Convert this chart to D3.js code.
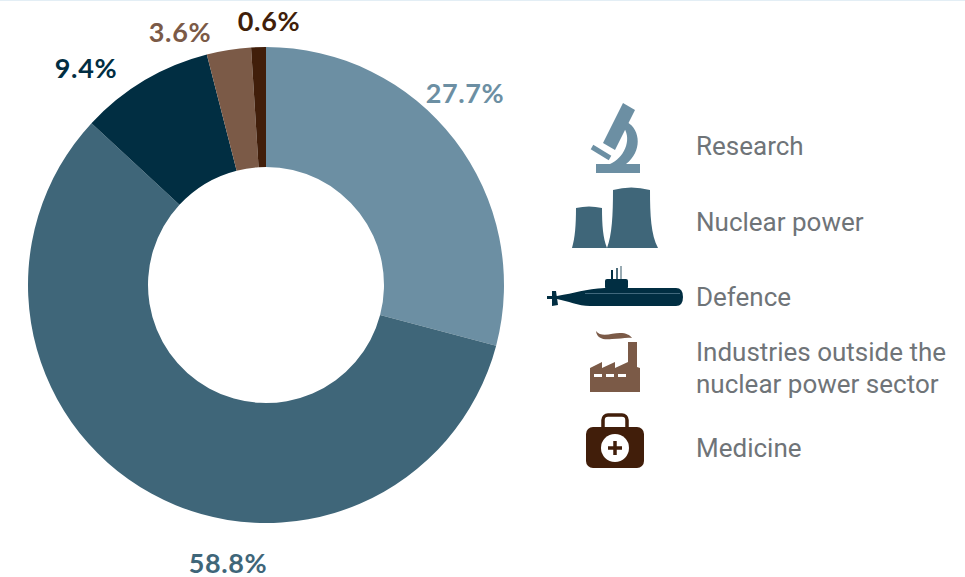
<!DOCTYPE html>
<html>
<head>
<meta charset="utf-8">
<script src="https://cdn.jsdelivr.net/npm/d3@7"></script>
<style>
  html, body { margin: 0; padding: 0; background: #fff; }
  svg { display: block; }
  .pct { font-family: Lato, sans-serif; font-weight: 700; font-size: 27px; letter-spacing: 0.6px; text-anchor: middle; }
  .legend-label { font-family: Roboto, sans-serif; font-size: 26px; fill: #6f7478; }
</style>
</head>
<body>
<svg id="chart" width="965" height="577"></svg>
<script>
'use strict';

var categories = ['Research', 'Nuclear power', 'Defence', 'Industries outside the nuclear power sector', 'Medicine'];
// printed labels, the arcs in the picture are a bit off from them
var labels = ['27.7%', '58.8%', '9.4%', '3.6%', '0.6%'];
var values = [29.1, 57.8, 9.1, 3.0, 1.0];
var colors = ['#6c8fa3', '#3f6679', '#012e42', '#7b5a47', '#411e0a'];
var labelPos = [[465, 103], [228, 573], [86, 78], [180, 42], [269, 31]];

var width = 965, height = 577;
var svg = d3.select('#chart');

// thin line along the top of the original image
svg.append('rect').attr('width', width).attr('height', 1).attr('fill', '#e3eef5');

var pie = d3.pie().sort(null).value(function(d) { return d; });
var arc = d3.arc().innerRadius(118).outerRadius(238);

var donut = svg.append('g').attr('transform', 'translate(266,285)');
donut.selectAll('path')
  .data(pie(values))
  .enter().append('path')
  .attr('d', arc)
  .attr('fill', function(d, i) { return colors[i]; });

svg.selectAll('.pct')
  .data(labels)
  .enter().append('text')
  .attr('class', 'pct')
  .attr('x', function(d, i) { return labelPos[i][0]; })
  .attr('y', function(d, i) { return labelPos[i][1]; })
  .attr('fill', function(d, i) { return colors[i]; })
  .text(function(d) { return d; });

var rowY = d3.scalePoint().domain(categories).range([146, 448]);

svg.selectAll('.legend-label')
  .data(categories)
  .enter().append('text')
  .attr('class', 'legend-label')
  .attr('x', 696)
  .attr('y', function(d) { return rowY(d) + 9; })
  .each(function(d) {
    var t = d3.select(this);
    if (d.length < 20) { t.text(d); return; }
    t.append('tspan').attr('x', 696).attr('y', 361).text('Industries outside the');
    t.append('tspan').attr('x', 696).attr('y', 393).text('nuclear power sector');
  });

// icons
var icons = svg.append('g');

var scope = icons.append('g').attr('fill', colors[0]).attr('stroke', 'none');
scope.append('rect').attr('x', 596).attr('y', 164).attr('width', 44).attr('height', 9);
scope.append('path').attr('d', 'M623 103 L635 110 L615 150 L603 143 Z');
scope.append('path').attr('d', 'M627 122 C641 130 642 152 626 164 L610 164 C624 158 632 140 624 128 Z');
scope.append('path').attr('d', 'M592 147 L610 158').attr('stroke', colors[0]).attr('stroke-width', 5);

var towers = icons.append('g').attr('fill', colors[1]);
towers.append('path').attr('d', 'M576 208 Q589 205 602 208 C602 225 603 238 607 248 L572 248 C575 238 576 225 576 208 Z');
towers.append('path').attr('d', 'M613 190 Q631 185 650 190 C650 215 651 235 658 248 L607 248 C612 235 613 215 613 190 Z');

var sub = icons.append('g').attr('fill', colors[2]);
sub.append('path').attr('d', 'M557 296 C575 293 585 289 605 288 L676 288 Q683 288 683 297 Q683 306 676 306 L590 306 C578 306 568 301 557 299 Z');
sub.append('rect').attr('x', 605).attr('y', 279).attr('width', 23).attr('height', 10).attr('rx', 2);
sub.append('path').attr('d', 'M552 291 L556 291 L558 305 L552 306 Z M547 296 L557 296 L557 299 L547 299 Z');
sub.append('rect').attr('x', 611).attr('y', 270).attr('width', 2).attr('height', 10);
sub.append('rect').attr('x', 616).attr('y', 268).attr('width', 2).attr('height', 12).attr('opacity', 0.7);
sub.append('rect').attr('x', 620).attr('y', 266).attr('width', 2).attr('height', 14).attr('opacity', 0.4);
sub.append('rect').attr('x', 585).attr('y', 293).attr('width', 95).attr('height', 1).attr('fill', '#6c8fa3').attr('opacity', 0.6);

var factory = icons.append('g').attr('fill', colors[3]);
factory.append('path').attr('d', 'M590 392 L590 368 L602 362 L602 368 L615 362 L615 368 L628 362 L628 342 L637 342 L637 367 L640 368 L640 392 Z');
factory.append('path').attr('d', 'M596 331 C601 338 612 333 620 333 C626 333 630 335 632 338 C626 337 620 339 612 339 C604 340 597 339 596 331 Z');
factory.append('g').attr('fill', '#fff').selectAll('rect')
  .data(categories.slice(0, 3))
  .enter().append('rect')
  .attr('x', function(d, i) { return 594 + i * 12; })
  .attr('y', 374).attr('width', 8).attr('height', 3);

var kit = icons.append('g');
kit.append('rect').attr('x', 603).attr('y', 415).attr('width', 24).attr('height', 20).attr('rx', 5)
  .attr('fill', 'none').attr('stroke', colors[4]).attr('stroke-width', 3.5);
kit.append('rect').attr('x', 586).attr('y', 427).attr('width', 58).attr('height', 41).attr('rx', 7).attr('fill', colors[4]);
kit.append('circle').attr('cx', 615).attr('cy', 448).attr('r', 14).attr('fill', '#fff');
kit.append('path').attr('d', 'M615 441 V455 M608 448 H622').attr('stroke', colors[4]).attr('stroke-width', 3.5);
</script>
</body>
</html>
